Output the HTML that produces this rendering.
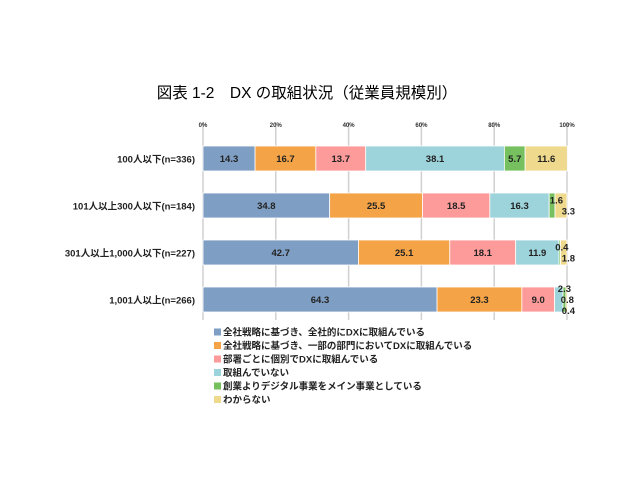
<!DOCTYPE html>
<html><head><meta charset="utf-8"><style>
body{margin:0;background:#fff;}
svg text{font-family:"Liberation Sans","Noto Sans CJK JP",sans-serif;}
</style></head><body>
<svg width="640" height="475" viewBox="0 0 640 475">
<text x="307" y="98" text-anchor="middle" font-size="15.5" fill="#000">図表 1-2　DX の取組状況（従業員規模別）</text>
<g id="grid"></g>
<g id="bars"></g>
<g id="legend"></g>
</svg>
<script>
const categories=["100人以下(n=336)","101人以上300人以下(n=184)","301人以上1,000人以下(n=227)","1,001人以上(n=266)"];
const seriesNames=["全社戦略に基づき、全社的にDXに取組んでいる","全社戦略に基づき、一部の部門においてDXに取組んでいる","部署ごとに個別でDXに取組んでいる","取組んでいない","創業よりデジタル事業をメイン事業としている","わからない"];
const s1=[14.3,34.8,42.7,64.3];
const s2=[16.7,25.5,25.1,23.3];
const s3=[13.7,18.5,18.1,9.0];
const s4=[38.1,16.3,11.9,2.3];
const s5=[5.7,1.6,0.4,0.8];
const s6=[11.6,3.3,1.8,0.4];
const ticks=[0,20,40,60,80,100];
const colors=["#7f9ec4","#f4a447","#fd9a9a","#9dd3da","#76c05f","#efd98d"];
const series=[s1,s2,s3,s4,s5,s6];
const NS="http://www.w3.org/2000/svg";
const x0=203,x1=567;
const xs=v=>x0+(x1-x0)*v/100;
const rowY=i=>146+i*47;
const barH=25;
function mk(t,a,p){const e=document.createElementNS(NS,t);for(const k in a)e.setAttribute(k,a[k]);p.appendChild(e);return e;}
const grid=document.getElementById('grid');
ticks.forEach(t=>{
  const l=mk('line',{x1:xs(t),x2:xs(t),y1:122,y2:320,stroke:'#d0d0d0','stroke-width':1.5},grid);
  
  
  const tx=mk('text',{x:xs(t),y:127,'text-anchor':'middle','font-size':6,'font-weight':'bold',fill:'#333'},grid);
  tx.textContent=t+'%';
  
  
});
const bars=document.getElementById('bars');
categories.forEach((c,i)=>{
  const y=rowY(i);
  const cl=mk('text',{x:195,y:y+barH/2+4,'text-anchor':'end','font-size':9.5,'font-weight':'bold',fill:'#222'},bars);
  cl.textContent=c;
  
  
  let acc=0;const small=[];
  series.forEach((s,j)=>{
    const v=s[i];
    const r=mk('rect',{x:xs(acc),y:y,width:xs(acc+v)-xs(acc),height:barH,fill:colors[j],stroke:'#fff','stroke-width':0.8},bars);
    
    
    if(v<4){small.push({v:v,end:xs(acc+v)});}
    else{
      const t=mk('text',{x:(xs(acc)+xs(acc+v))/2,y:y+barH/2+3.5,'text-anchor':'middle','font-size':9.5,'font-weight':'bold',fill:'#222'},bars);
      t.textContent=v.toFixed(1);
      
      
    }
    acc+=v;
  });
  small.forEach((o,k)=>{
    const dy=(k-(small.length-1)/2)*11;
    const t=mk('text',{x:Math.min(o.end+8,575),y:y+barH/2+3.5+dy,'text-anchor':'end','font-size':9.5,'font-weight':'bold',fill:'#222'},bars);
    t.textContent=o.v.toFixed(1);
    
    
  });
});
const lg=document.getElementById('legend');
seriesNames.forEach((n,j)=>{
  const y=332+j*13.5;
  const r=mk('rect',{x:214,y:y-3.5,width:7,height:7,fill:colors[j]},lg);
  
  
  const t=mk('text',{x:223,y:y+3.5,'font-size':9.5,'font-weight':'bold',fill:'#222'},lg);
  t.textContent=n;
  
  
});
</script>
</body></html>
